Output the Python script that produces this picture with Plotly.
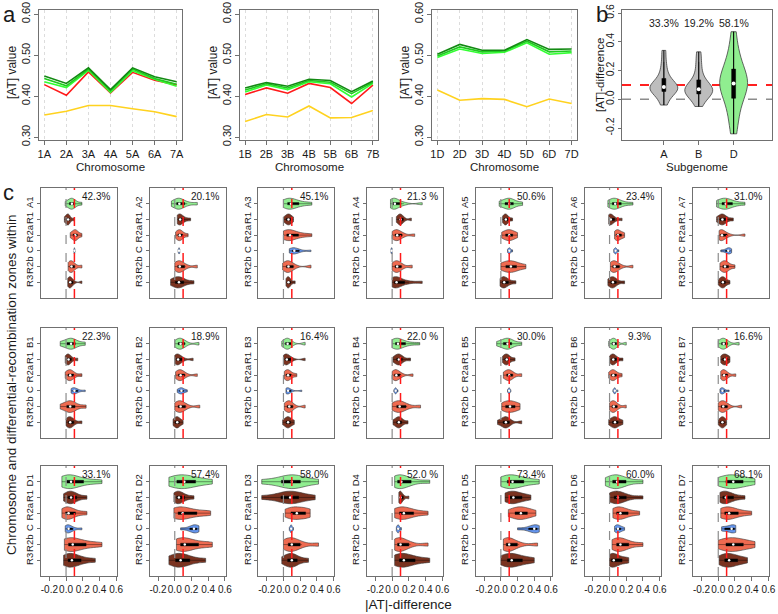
import numpy as np
import plotly.graph_objects as go

W, H = 778, 614

# ---------------- Panel a data ----------------
CHR_A = ["1A", "2A", "3A", "4A", "5A", "6A", "7A"]
CHR_B = ["1B", "2B", "3B", "4B", "5B", "6B", "7B"]
CHR_D = ["1D", "2D", "3D", "4D", "5D", "6D", "7D"]

A_dark = [0.449, 0.431, 0.469, 0.416, 0.469, 0.447, 0.435]
A_mid = [0.443, 0.425, 0.466, 0.413, 0.466, 0.443, 0.429]
A_light = [0.435, 0.421, 0.463, 0.409, 0.462, 0.441, 0.424]
A_red = [0.428, 0.402, 0.459, 0.408, 0.458, 0.439, 0.427]
A_yellow = [0.354, 0.363, 0.377, 0.377, 0.369, 0.362, 0.350]

B_dark = [0.420, 0.433, 0.424, 0.441, 0.438, 0.411, 0.437]
B_mid = [0.415, 0.430, 0.420, 0.438, 0.434, 0.406, 0.434]
B_light = [0.410, 0.427, 0.416, 0.435, 0.430, 0.398, 0.431]
B_red = [0.404, 0.420, 0.407, 0.431, 0.421, 0.382, 0.427]
B_yellow = [0.338, 0.355, 0.349, 0.376, 0.347, 0.348, 0.365]

D_dark = [0.502, 0.526, 0.512, 0.512, 0.538, 0.514, 0.515]
D_mid = [0.498, 0.520, 0.508, 0.510, 0.534, 0.508, 0.510]
D_light = [0.494, 0.515, 0.504, 0.507, 0.530, 0.502, 0.506]
D_yellow = [0.415, 0.390, 0.394, 0.392, 0.374, 0.393, 0.382]

# ---------------- Panel b data ----------------
SUBGENOMES = ["A", "B", "D"]
SUB_PCT = ["33.3%", "19.2%", "58.1%"]
SUB_A = [-0.04, 0.0, 0.03, 0.05, 0.06, 0.07, 0.075, 0.08, 0.09, 0.10, 0.11, 0.13, 0.16, 0.20, 0.26, 0.34]
SUB_B = [-0.05, -0.01, 0.02, 0.03, 0.045, 0.055, 0.06, 0.065, 0.075, 0.09, 0.10, 0.12, 0.15, 0.20, 0.26, 0.33]
SUB_D = [-0.24, -0.15, -0.08, -0.03, 0.02, 0.06, 0.08, 0.10, 0.11, 0.12, 0.14, 0.17, 0.20, 0.24, 0.29, 0.35, 0.47]

# ---------------- Panel c data ----------------
ZONES = ["R1", "R2a", "C", "R2b", "R3"]
ROWS = [["A1", "A2", "A3", "A4", "A5", "A6", "A7"],
        ["B1", "B2", "B3", "B4", "B5", "B6", "B7"],
        ["D1", "D2", "D3", "D4", "D5", "D6", "D7"]]
PCT = {"A1": "42.3%", "A2": "20.1%", "A3": "45.1%", "A4": "21.3 %", "A5": "50.6%", "A6": "23.4%", "A7": "31.0%",
       "B1": "22.3%", "B2": "18.9%", "B3": "16.4%", "B4": "22.0 %", "B5": "30.0%", "B6": "9.3%", "B7": "16.6%",
       "D1": "33.1%", "D2": "57.4%", "D3": "58.0%", "D4": "52.0 %", "D5": "73.4%", "D6": "60.0%", "D7": "68.1%"}

# order in each: chromosome, R1, R2a, C, R2b, R3
V_A1 = [[-0.01, 0.03, 0.05, 0.07, 0.07, 0.09, 0.12, 0.19],
        [-0.02, 0.0, 0.015, 0.025, 0.03, 0.045, 0.10],
        [0.05, 0.08, 0.10, 0.11, 0.12, 0.14, 0.19],
        [0.09, 0.097, 0.10, 0.10, 0.103, 0.11],
        [0.025, 0.045, 0.055, 0.065, 0.08, 0.11, 0.19],
        [0.02, 0.035, 0.045, 0.05, 0.06, 0.09, 0.19]]
V_A2 = [[-0.04, 0.01, 0.035, 0.05, 0.06, 0.09, 0.15, 0.27],
        [0.03, 0.045, 0.055, 0.065, 0.08, 0.12, 0.19],
        [0.01, 0.035, 0.05, 0.06, 0.075, 0.10, 0.16],
        [0.04, 0.047, 0.05, 0.052, 0.055, 0.06],
        [0.0, 0.03, 0.05, 0.06, 0.08, 0.13, 0.27],
        [-0.05, 0.0, 0.03, 0.05, 0.07, 0.12, 0.23]]
V_A3 = [[0.0, 0.04, 0.06, 0.08, 0.10, 0.15, 0.22, 0.34],
        [0.0, 0.03, 0.05, 0.06, 0.07, 0.09, 0.12],
        [0.0, 0.03, 0.05, 0.07, 0.09, 0.14, 0.22, 0.34],
        [0.07, 0.10, 0.12, 0.13, 0.15, 0.20, 0.33],
        [-0.01, 0.03, 0.05, 0.06, 0.08, 0.13, 0.33],
        [0.03, 0.045, 0.055, 0.06, 0.07, 0.09, 0.14]]
V_A4 = [[-0.02, 0.0, 0.015, 0.025, 0.04, 0.07, 0.14, 0.36],
        [0.05, 0.08, 0.09, 0.10, 0.11, 0.14, 0.23],
        [0.0, 0.03, 0.05, 0.06, 0.08, 0.13, 0.27],
        [-0.015, -0.01, -0.008, -0.005, -0.002, 0.0],
        [0.0, 0.03, 0.05, 0.06, 0.08, 0.12, 0.24],
        [0.0, 0.02, 0.035, 0.045, 0.06, 0.10, 0.20, 0.36]]
V_A5 = [[-0.02, 0.04, 0.08, 0.10, 0.12, 0.16, 0.26],
        [0.02, 0.04, 0.05, 0.06, 0.07, 0.09, 0.14],
        [0.01, 0.05, 0.08, 0.10, 0.12, 0.15, 0.20],
        [0.08, 0.095, 0.10, 0.105, 0.115, 0.14],
        [0.0, 0.05, 0.09, 0.12, 0.15, 0.20, 0.30],
        [-0.01, 0.015, 0.03, 0.04, 0.06, 0.10, 0.18]]
V_A6 = [[-0.02, 0.02, 0.045, 0.06, 0.075, 0.11, 0.17, 0.28],
        [-0.01, 0.0, 0.005, 0.015, 0.03, 0.07, 0.15],
        [0.06, 0.08, 0.09, 0.10, 0.12, 0.15, 0.18],
        [0.05, 0.065, 0.07, 0.075, 0.085, 0.11],
        [0.01, 0.035, 0.05, 0.06, 0.08, 0.13, 0.28],
        [-0.02, 0.01, 0.03, 0.04, 0.055, 0.09, 0.18]]
V_A7 = [[-0.02, 0.03, 0.06, 0.08, 0.10, 0.14, 0.20, 0.32],
        [-0.02, 0.02, 0.04, 0.05, 0.065, 0.10, 0.18],
        [0.01, 0.025, 0.035, 0.045, 0.06, 0.12, 0.32],
        [0.03, 0.08, 0.11, 0.12, 0.13, 0.14, 0.16],
        [0.02, 0.05, 0.07, 0.08, 0.10, 0.13, 0.20],
        [0.0, 0.03, 0.045, 0.055, 0.07, 0.09, 0.14]]
V_B1 = [[-0.07, 0.0, 0.04, 0.06, 0.08, 0.12, 0.23],
        [-0.01, 0.01, 0.02, 0.03, 0.04, 0.07, 0.14],
        [-0.01, 0.02, 0.04, 0.05, 0.065, 0.10, 0.19],
        [0.06, 0.08, 0.09, 0.10, 0.115, 0.15, 0.23],
        [-0.07, 0.0, 0.035, 0.05, 0.07, 0.12, 0.24],
        [0.0, 0.025, 0.04, 0.05, 0.065, 0.10, 0.19]]
V_B2 = [[0.0, 0.035, 0.055, 0.07, 0.09, 0.13, 0.29],
        [0.0, 0.02, 0.03, 0.04, 0.055, 0.10, 0.22],
        [0.01, 0.04, 0.06, 0.07, 0.085, 0.13, 0.27],
        [0.03, 0.055, 0.07, 0.08, 0.09, 0.11, 0.15],
        [0.0, 0.035, 0.055, 0.07, 0.09, 0.14, 0.30],
        [-0.02, 0.0, 0.02, 0.03, 0.04, 0.06, 0.10]]
V_B3 = [[-0.02, 0.02, 0.04, 0.05, 0.065, 0.10, 0.26],
        [0.0, 0.02, 0.03, 0.04, 0.055, 0.10, 0.26],
        [0.01, 0.03, 0.045, 0.055, 0.07, 0.10, 0.16],
        [0.03, 0.04, 0.05, 0.055, 0.065, 0.10, 0.22],
        [0.01, 0.04, 0.06, 0.07, 0.085, 0.12, 0.26],
        [-0.01, 0.025, 0.045, 0.055, 0.065, 0.09, 0.13]]
V_B4 = [[0.0, 0.03, 0.05, 0.06, 0.08, 0.12, 0.20, 0.33],
        [0.01, 0.05, 0.07, 0.08, 0.095, 0.13, 0.22],
        [0.0, 0.025, 0.04, 0.05, 0.065, 0.11, 0.25],
        [0.02, 0.035, 0.04, 0.045, 0.05, 0.07],
        [0.0, 0.05, 0.07, 0.09, 0.12, 0.18, 0.34],
        [0.01, 0.05, 0.07, 0.08, 0.095, 0.12, 0.19]]
V_B5 = [[-0.05, 0.02, 0.06, 0.08, 0.10, 0.14, 0.25],
        [0.02, 0.045, 0.06, 0.07, 0.085, 0.11, 0.17],
        [0.03, 0.065, 0.085, 0.10, 0.115, 0.15, 0.25],
        [0.08, 0.092, 0.098, 0.10, 0.105, 0.12],
        [0.01, 0.05, 0.08, 0.11, 0.14, 0.18, 0.23],
        [-0.04, 0.02, 0.045, 0.06, 0.075, 0.11, 0.25]]
V_B6 = [[-0.01, 0.025, 0.04, 0.05, 0.065, 0.09, 0.20],
        [0.0, 0.025, 0.035, 0.045, 0.06, 0.09, 0.16],
        [-0.01, 0.02, 0.035, 0.045, 0.06, 0.09, 0.15],
        [0.04, 0.055, 0.06, 0.065, 0.07, 0.10],
        [0.0, 0.025, 0.04, 0.05, 0.065, 0.10, 0.20],
        [-0.01, 0.03, 0.05, 0.065, 0.08, 0.11, 0.16]]
V_B7 = [[0.0, 0.035, 0.055, 0.065, 0.08, 0.12, 0.25],
        [0.03, 0.05, 0.065, 0.08, 0.095, 0.115, 0.14],
        [0.03, 0.05, 0.06, 0.07, 0.085, 0.12, 0.21],
        [0.02, 0.035, 0.045, 0.05, 0.06, 0.08, 0.13],
        [0.0, 0.03, 0.05, 0.06, 0.075, 0.12, 0.28],
        [0.0, 0.025, 0.04, 0.05, 0.06, 0.075, 0.10]]
V_D1 = [[-0.05, 0.0, 0.02, 0.04, 0.08, 0.15, 0.27, 0.43],
        [-0.03, 0.02, 0.045, 0.06, 0.09, 0.14, 0.25],
        [-0.05, -0.01, 0.01, 0.03, 0.06, 0.13, 0.25],
        [-0.01, 0.01, 0.02, 0.03, 0.05, 0.09, 0.19],
        [-0.02, 0.02, 0.04, 0.06, 0.10, 0.18, 0.30, 0.43],
        [-0.03, 0.02, 0.04, 0.07, 0.12, 0.20, 0.35]]
V_D2 = [[-0.07, 0.0, 0.05, 0.09, 0.14, 0.20, 0.30, 0.45],
        [-0.01, 0.02, 0.035, 0.05, 0.08, 0.13, 0.23],
        [-0.01, 0.03, 0.05, 0.07, 0.12, 0.20, 0.33, 0.43],
        [0.07, 0.17, 0.21, 0.23, 0.25, 0.27, 0.29],
        [0.02, 0.06, 0.08, 0.10, 0.14, 0.22, 0.35, 0.45],
        [-0.07, 0.0, 0.04, 0.07, 0.12, 0.20, 0.37]]
V_D3 = [[-0.26, -0.05, 0.05, 0.10, 0.15, 0.22, 0.42],
        [-0.26, -0.05, 0.03, 0.08, 0.13, 0.20, 0.38],
        [0.02, 0.08, 0.12, 0.16, 0.22, 0.28, 0.32],
        [0.07, 0.085, 0.09, 0.095, 0.10, 0.12],
        [0.0, 0.05, 0.08, 0.10, 0.14, 0.22, 0.42],
        [-0.02, 0.04, 0.08, 0.10, 0.12, 0.18, 0.30]]
V_D4 = [[0.03, 0.06, 0.08, 0.11, 0.16, 0.25, 0.45],
        [0.08, 0.09, 0.095, 0.10, 0.11, 0.14, 0.20],
        [0.03, 0.08, 0.11, 0.14, 0.19, 0.28, 0.43],
        [0.05, 0.065, 0.07, 0.075, 0.085, 0.11],
        [0.03, 0.06, 0.08, 0.10, 0.14, 0.22, 0.43],
        [0.03, 0.08, 0.11, 0.14, 0.20, 0.30, 0.45]]
V_D5 = [[0.0, 0.07, 0.10, 0.14, 0.20, 0.30, 0.46],
        [0.05, 0.10, 0.13, 0.15, 0.20, 0.27, 0.36],
        [0.09, 0.16, 0.20, 0.24, 0.28, 0.33, 0.42],
        [0.20, 0.32, 0.37, 0.40, 0.42, 0.44, 0.46],
        [0.03, 0.06, 0.08, 0.10, 0.13, 0.22, 0.44],
        [0.0, 0.07, 0.10, 0.13, 0.19, 0.28, 0.40]]
V_D6 = [[-0.05, 0.03, 0.06, 0.09, 0.13, 0.22, 0.40],
        [0.0, 0.05, 0.07, 0.10, 0.14, 0.22, 0.40],
        [0.04, 0.08, 0.10, 0.13, 0.17, 0.24, 0.36],
        [0.06, 0.08, 0.09, 0.10, 0.12, 0.14, 0.18],
        [0.03, 0.08, 0.10, 0.13, 0.17, 0.25, 0.40],
        [0.0, 0.02, 0.035, 0.05, 0.09, 0.17, 0.23]]
V_D7 = [[0.0, 0.08, 0.13, 0.18, 0.23, 0.32, 0.44],
        [0.02, 0.05, 0.07, 0.09, 0.13, 0.20, 0.32],
        [0.03, 0.07, 0.10, 0.13, 0.18, 0.26, 0.40],
        [0.04, 0.06, 0.13, 0.16, 0.18, 0.20, 0.21],
        [0.0, 0.08, 0.13, 0.18, 0.24, 0.32, 0.44],
        [0.01, 0.07, 0.10, 0.13, 0.18, 0.25, 0.35]]

VIOLINS = {"A1": V_A1, "A2": V_A2, "A3": V_A3, "A4": V_A4, "A5": V_A5, "A6": V_A6, "A7": V_A7,
           "B1": V_B1, "B2": V_B2, "B3": V_B3, "B4": V_B4, "B5": V_B5, "B6": V_B6, "B7": V_B7,
           "D1": V_D1, "D2": V_D2, "D3": V_D3, "D4": V_D4, "D5": V_D5, "D6": V_D6, "D7": V_D7}

# ---------------- styles ----------------
FONT = "Liberation Sans, Arial, Helvetica, sans-serif"
NARROW = "Liberation Sans Narrow, Arial Narrow, Liberation Sans, sans-serif"
FRAME = "#707070"
C_GREEN = "#90EE90"
C_BROWN = "#7A3320"
C_CORAL = "#EE6A50"
C_BLUE = "#6495ED"
C_GRAY = "#BDBDBD"
ZONE_COLORS = [C_GREEN, C_BROWN, C_CORAL, C_BLUE, C_CORAL, C_BROWN]
WIDTHS_AB = [0.7, 0.7, 0.7, 0.4, 0.75, 0.72]
WIDTHS_D = [0.88, 0.8, 0.8, 0.52, 0.88, 0.88]


def dx(l, r):
    return [l / W, r / W]


def dy(t, b):
    return [1 - b / H, 1 - t / H]


def note(text, x, y, size, angle=0, xa="center", ya="middle", **kw):
    return dict(text=text, x=x / W, y=1 - y / H, xref="paper", yref="paper", textangle=angle,
                xanchor=xa, yanchor=ya, showarrow=False, font=dict(size=size, **kw))


fig = go.Figure()
layout = dict(template="none", width=W, height=H, autosize=False, margin=dict(l=0, r=0, t=0, b=0, pad=0),
              paper_bgcolor="white", plot_bgcolor="white", showlegend=False,
              violinmode="overlay", font=dict(family=FONT, size=11, color="#1a1a1a"))
annotations = []
shapes = []

frame = dict(showline=True, mirror=True, linecolor=FRAME, linewidth=1, zeroline=False, automargin=False,
             ticks="outside", tickcolor=FRAME, ticklen=4, showgrid=False, tickangle=0)

# ---------------- Panel a ----------------
a_frames = [(39, 182), (240, 378), (432, 577)]
a_sets = [(CHR_A, [(A_yellow, "#FFD21F"), (A_red, "#FF1A1A"), (A_light, "#33FF33"), (A_mid, "#1FCC1F"), (A_dark, "#138A13")]),
          (CHR_B, [(B_yellow, "#FFD21F"), (B_red, "#FF1A1A"), (B_light, "#33FF33"), (B_mid, "#1FCC1F"), (B_dark, "#138A13")]),
          (CHR_D, [(D_yellow, "#FFD21F"), (D_light, "#33FF33"), (D_mid, "#1FCC1F"), (D_dark, "#138A13")])]
for i, ((l, r), (names, series)) in enumerate(zip(a_frames, a_sets)):
    k = i + 1
    xs = list(range(1, len(names) + 1))
    layout[f"xaxis{k}"] = dict(frame, domain=dx(l, r), anchor=f"y{k}", range=[0.76, 7.24],
                               tickvals=xs, ticktext=names, tickfont=dict(size=11),
                               showgrid=True, gridcolor="#dcdcdc", griddash="dot", gridwidth=1)
    layout[f"yaxis{k}"] = dict(frame, domain=dy(10, 140), anchor=f"x{k}", range=[0.293, 0.61],
                               tickvals=[0.3, 0.4, 0.5, 0.6], ticktext=["0.30", "0.40", "0.50", "0.60"],
                               tickangle=-90, tickfont=dict(size=11))
    for vals, col in series:
        fig.add_trace(go.Scatter(x=xs, y=vals, mode="lines", line=dict(color=col, width=1.6),
                                 xaxis=f"x{k}", yaxis=f"y{k}", hoverinfo="skip"))
    annotations.append(note("[AT] value", l - 27, 73, 12, angle=-90))
    annotations.append(note("Chromosome", (l + r) / 2, 167, 11.5))

# ---------------- Panel b ----------------
layout["xaxis4"] = dict(frame, domain=dx(622, 772), anchor="y4", range=[-0.2, 4.1],
                        tickvals=[1, 2, 3], ticktext=SUBGENOMES, tickfont=dict(size=11))
layout["yaxis4"] = dict(frame, domain=dy(10, 140), anchor="x4", range=[-0.283, 0.621], ticklen=3,
                        tickvals=[-0.2, 0, 0.2, 0.4, 0.6], ticktext=["-0.2", "0.0", "0.2", "0.4", "0.6"],
                        tickangle=-90, tickfont=dict(size=10.5))
shapes.append(dict(type="line", xref="x4 domain", yref="y4", x0=0, x1=1, y0=0, y1=0, layer="below",
                   line=dict(color="#8c8c8c", width=1.5, dash="dash")))
shapes.append(dict(type="line", xref="x4 domain", yref="y4", x0=0, x1=1, y0=0.1, y1=0.1, layer="below",
                   line=dict(color="#FF2020", width=2, dash="dash")))
for pos, (vals, col, pct) in enumerate(zip([SUB_A, SUB_B, SUB_D], [C_GRAY, C_GRAY, C_GREEN], SUB_PCT), start=1):
    fig.add_trace(go.Violin(y=vals, x0=pos, width=0.8, side="both", spanmode="hard", points=False,
                            fillcolor=col, line=dict(color="#404040", width=0.8), opacity=1,
                            box=dict(visible=True, width=0.14, fillcolor="black", line=dict(color="black", width=0.5)),
                            meanline=dict(visible=False), xaxis="x4", yaxis="y4", hoverinfo="skip"))
    fig.add_trace(go.Scatter(x=[pos, pos], y=[min(vals), max(vals)], mode="lines",
                             line=dict(color="black", width=1), xaxis="x4", yaxis="y4", hoverinfo="skip"))
    fig.add_trace(go.Scatter(x=[pos], y=[float(np.median(vals))], mode="markers",
                             marker=dict(color="white", size=4), xaxis="x4", yaxis="y4", hoverinfo="skip"))
    annotations.append(dict(text=pct, x=pos, y=0.53, xref="x4", yref="y4", showarrow=False,
                            xanchor="center", yanchor="middle", font=dict(size=10.5)))
annotations.append(note("[AT]-difference", 600, 75, 11.5, angle=-90))
annotations.append(note("Subgenome", 697, 167, 11.5))

# ---------------- Panel c ----------------
row_tb = [(188, 298), (328, 438), (466, 576)]
for ri, row in enumerate(ROWS):
    t, b = row_tb[ri]
    widths = WIDTHS_D if ri == 2 else WIDTHS_AB
    for ci, chrom in enumerate(row):
        k = 5 + ri * 7 + ci
        l = 41 + ci * 108.7
        r = l + 76
        xa = dict(frame, domain=dx(l, r), anchor=f"y{k}", range=[-0.30, 0.61])
        if ri == 2:
            xa.update(tickvals=[-0.2, 0, 0.2, 0.4, 0.6], ticktext=["-0.2", "0.0", "0.2", "0.4", "0.6"],
                      tickfont=dict(size=10, family=NARROW), ticklen=4)
        else:
            xa.update(ticks="", showticklabels=False)
        layout[f"xaxis{k}"] = xa
        layout[f"yaxis{k}"] = dict(frame, domain=dy(t, b), anchor=f"x{k}", range=[7, 0],
                                   tickvals=[1, 2, 3, 4, 5, 6], ticktext=[chrom] + ZONES,
                                   tickangle=-90, ticklen=3, tickfont=dict(size=9.5, family=NARROW))
        shapes.append(dict(type="line", xref=f"x{k}", yref=f"y{k} domain", x0=0, x1=0, y0=0, y1=1,
                           line=dict(color="#8c8c8c", width=1.2, dash="dash")))
        shapes.append(dict(type="line", xref=f"x{k}", yref=f"y{k} domain", x0=0.1, x1=0.1, y0=0, y1=1,
                           line=dict(color="#FF1A1A", width=1.5, dash="dash")))
        meds = []
        for zi, vals in enumerate(VIOLINS[chrom]):
            pos = zi + 1
            fig.add_trace(go.Violin(x=vals, y0=pos, orientation="h", width=widths[zi], side="both",
                                    spanmode="hard", points=False, fillcolor=ZONE_COLORS[zi], opacity=1,
                                    line=dict(color="#3a3a3a", width=0.6),
                                    box=dict(visible=True, width=0.2, fillcolor="black",
                                             line=dict(color="black", width=0.4)),
                                    meanline=dict(visible=False), xaxis=f"x{k}", yaxis=f"y{k}",
                                    hoverinfo="skip"))
            meds.append(float(np.median(vals)))
        fig.add_trace(go.Scatter(x=meds, y=[1, 2, 3, 4, 5, 6], mode="markers",
                                 marker=dict(color="white", size=2.5), xaxis=f"x{k}", yaxis=f"y{k}",
                                 hoverinfo="skip"))
        annotations.append(dict(text=PCT[chrom], x=0.36, y=0.55, xref=f"x{k}", yref=f"y{k}",
                                showarrow=False, xanchor="center", yanchor="middle",
                                font=dict(size=10, family=NARROW)))

annotations.append(note("Chromosome and differential-recombination zones within", 12, 385, 13.5, angle=-90))
annotations.append(note("|AT|-difference", 408, 604, 13.5))

# panel letters
annotations.append(note("a", 1, 0, 22, xa="left", ya="top"))
annotations.append(note("b", 594, 0, 22, xa="left", ya="top"))
annotations.append(note("c", 1, 178, 22, xa="left", ya="top"))

layout["annotations"] = annotations
layout["shapes"] = shapes
fig.update_layout(**layout)
fig.write_html("out.html", config={"displayModeBar": False},
               post_script="document.body.style.margin='0';document.body.style.padding='0';"
                           "document.documentElement.style.overflow='hidden';")
